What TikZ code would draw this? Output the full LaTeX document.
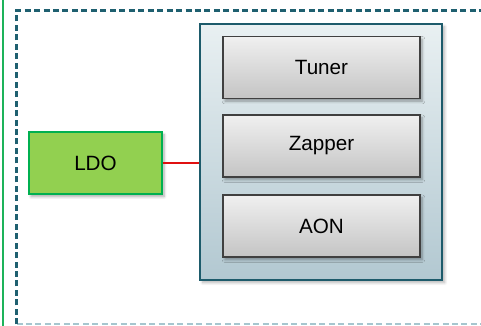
\documentclass[tikz,border=0pt]{standalone}
\usepackage{fontspec}
\setmainfont{Liberation Sans}
\usetikzlibrary{shadows.blur}
\definecolor{teal1}{HTML}{1D5B6B}
\definecolor{outerc}{HTML}{1F6070}
\definecolor{outerlight}{HTML}{A6C6CF}
\definecolor{bigtop}{HTML}{E9F0F2}
\definecolor{bigbot}{HTML}{B2C8D1}
\definecolor{graytop}{HTML}{F0F0F0}
\definecolor{graybot}{HTML}{C4C4C4}
\definecolor{grayline}{HTML}{404040}
\definecolor{ldofill}{HTML}{92D050}
\definecolor{ldoline}{HTML}{00B050}
\definecolor{leftgreen}{HTML}{1DB35A}
\definecolor{linkred}{HTML}{E01010}
\tikzset{
  px/.style={x=0.75pt,y=-0.75pt},
  bigbox/.style={draw=teal1, line width=1.5pt, top color=bigtop, bottom color=bigbot,
     blur shadow={shadow xshift=2pt, shadow yshift=-2pt, shadow blur steps=6, shadow opacity=30}},
  grayblock/.style={draw=grayline, line width=1.1pt, top color=graytop, bottom color=graybot,
     minimum width=147.75pt, minimum height=46.5pt, inner sep=0pt, font=\fontsize{15.5}{18}\selectfont,
     blur shadow={shadow xshift=1.5pt, shadow yshift=-2pt, shadow blur steps=5, shadow opacity=35}},
  ldoblock/.style={draw=ldoline, line width=1.2pt, fill=ldofill,
     minimum width=99.75pt, minimum height=46.5pt, inner sep=0pt, font=\fontsize{15.5}{18}\selectfont,
     blur shadow={shadow xshift=1.5pt, shadow yshift=-2pt, shadow blur steps=5, shadow opacity=35}},
  outerdash/.style={line width=1.6pt, dash pattern=on 4.5pt off 2.6pt},
  link/.style={draw=linkred, line width=1.1pt},
}
\begin{document}
\begin{tikzpicture}[px]
\useasboundingbox (0,0) rectangle (481,325);
\draw[leftgreen, line width=1.5pt] (3.3,-2) -- (3.3,327);
\coordinate (otl) at (16.5,10.5);
\coordinate (otr) at (483,10.5);
\coordinate (obl) at (16.5,324.3);
\coordinate (obr) at (483,324.3);
\draw[outerdash, draw=outerlight] (obl) -- (obr);
\draw[outerdash, draw=outerc] (obl) -- (otl) -- (otr);
\node[bigbox, minimum width=181.5pt, minimum height=192pt, inner sep=0pt] (big) at (321,152) {};
\node[grayblock] (tuner) at (321.5,67.5) {Tuner};
\node[grayblock] (zapper) at (321.5,146) {Zapper};
\node[grayblock] (aon) at (321.5,226) {AON};
\node[ldoblock] (ldo) at (95.5,163) {LDO};
\draw[link] (ldo.east) -- (ldo.east -| big.west);
\end{tikzpicture}
\end{document}
